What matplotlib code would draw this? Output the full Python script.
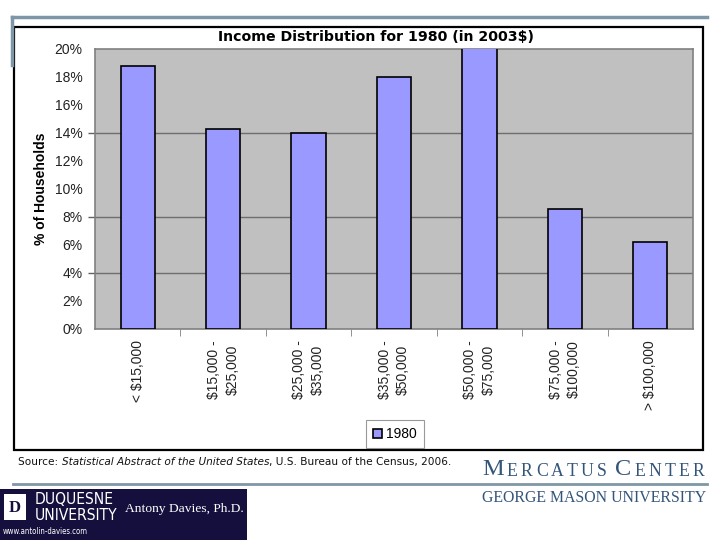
import matplotlib
matplotlib.use("Agg")
import matplotlib.pyplot as plt
from matplotlib.patches import Rectangle
from matplotlib.lines import Line2D

# Income brackets (2003 dollars) and share of households, 1980
categories = ["< $15,000", "$15,000 -\n$25,000", "$25,000 -\n$35,000",
              "$35,000 -\n$50,000", "$50,000 -\n$75,000", "$75,000 -\n$100,000",
              "> $100,000"]
share_1980 = [18.8, 14.3, 14.0, 18.0, 20.3, 8.55, 6.25]
y_ticks = [0, 2, 4, 6, 8, 10, 12, 14, 16, 18, 20]
grid_levels = [4, 8, 14]  # only these gridlines show in the reference

BAR = "#9999FF"
PLOT_BG = "#C0C0C0"
SLIDE_LINE = "#7E97A6"
NAVY = "#150F3E"
MERC = "#34557A"


def main():
    fig = plt.figure(figsize=(7.2, 5.4), dpi=100)
    W, H = 720.0, 540.0

    def fx(px):
        return px / W

    def fy(py):
        return 1 - py / H

    # slide decoration lines
    fig.add_artist(Line2D([fx(12), fx(707)], [fy(17), fy(17)], color=SLIDE_LINE, lw=2.5))
    fig.add_artist(Line2D([fx(12), fx(12)], [fy(17), fy(65)], color=SLIDE_LINE, lw=2.5))
    fig.add_artist(Line2D([fx(13), fx(707)], [fy(484), fy(484)], color=SLIDE_LINE, lw=2.0))

    # chart frame
    fig.add_artist(Rectangle((fx(14), fy(450)), fx(703) - fx(14), fy(27) - fy(450),
                             fill=False, edgecolor="black", lw=1.6))

    ax = fig.add_axes([fx(95), fy(329), fx(693) - fx(95), fy(49) - fy(329)])
    ax.set_facecolor(PLOT_BG)
    x = list(range(len(categories)))
    ax.bar(x, share_1980, width=0.4, color=BAR, edgecolor="black", linewidth=1.2,
           label="1980", zorder=3)
    ax.set_xlim(-0.5, len(categories) - 0.5)
    ax.set_ylim(0, 20)
    ax.set_axisbelow(True)

    for s in ax.spines.values():
        s.set_color("#808080")
        s.set_linewidth(1.2)

    ax.set_yticks(y_ticks)
    ax.set_yticklabels([f"{v}%" for v in y_ticks], fontsize=10,
                       family="Liberation Sans", color="#222222")
    ax.yaxis.remove_overlapping_locs = False
    ax.set_yticks(grid_levels, minor=True)
    ax.tick_params(axis="y", which="major", length=0, pad=9)
    ax.tick_params(axis="y", which="minor", length=5, width=1.0, color="#606060")
    ax.grid(which="minor", axis="y", color="#6E6E6E", linewidth=1.0)

    ax.set_xticks(x)
    ax.set_xticklabels(categories, rotation=90, fontsize=10, family="Liberation Sans",
                       color="#222222", linespacing=1.4, va="top",
                       multialignment="center")
    ax.set_xticks([i + 0.5 for i in x[:-1]], minor=True)
    ax.tick_params(axis="x", which="major", length=0, pad=8)
    ax.tick_params(axis="x", which="minor", length=5, color="#808080")

    ax.set_ylabel("% of Households", fontsize=10, fontweight="bold",
                  family="Liberation Sans", labelpad=5)

    fig.text(fx(375.5), fy(37), "Income Distribution for 1980 (in 2003$)",
             ha="center", va="center", fontsize=10.2, fontweight="bold")

    leg = fig.legend(loc="center", bbox_to_anchor=(fx(395), fy(434)),
                     prop={"family": "Liberation Sans", "size": 10},
                     fancybox=False, edgecolor="#808080", handlelength=0.6,
                     handleheight=0.6, handletextpad=0.3, borderpad=0.5)
    leg.get_frame().set_linewidth(0.8)

    # source line with italic title
    t1 = fig.text(fx(18), fy(462), "Source: ", fontsize=7.6, va="center", color="#111111")
    t2 = plt.annotate("Statistical Abstract of the United States", xy=(1, 0.5),
                      xycoords=t1, va="center", fontsize=7.6, style="italic",
                      color="#111111")
    plt.annotate(", U.S. Bureau of the Census, 2006.", xy=(1, 0.5), xycoords=t2,
                 va="center", fontsize=7.6, color="#111111")

    # Mercatus Center in spaced small caps, letter by letter
    serif = "Liberation Serif"
    word = "MERCATUS CENTER"
    big = {0, 9}
    prev = fig.text(fx(482), fy(475), word[0], fontsize=17.5, family=serif,
                    color=MERC, va="baseline", ha="left")
    for i, ch in enumerate(word[1:], start=1):
        size = 17.5 if i in big else 12.8
        gap = 2.3 if ch != " " else 0.3
        prev = plt.annotate(ch if ch != " " else "\u00a0", xy=(1, 0), xycoords=prev,
                            xytext=(gap, 0), textcoords="offset points",
                            va="bottom", fontsize=size, family=serif, color=MERC)
    fig.text(fx(706), fy(498), "GEORGE MASON UNIVERSITY", fontsize=11.4,
             family=serif, color=MERC, ha="right", va="center")

    # Duquesne banner
    fig.add_artist(Rectangle((0, 0), fx(247), fy(489), color=NAVY, lw=0))
    fig.add_artist(Rectangle((fx(4), fy(520)), fx(22), fy(494) - fy(520),
                             facecolor="white", edgecolor="none"))
    fig.text(fx(15), fy(507.5), "D", fontsize=12, fontweight="bold",
             family=serif, color=NAVY, ha="center", va="center")
    for label, yy in [("DUQUESNE", 500), ("UNIVERSITY", 516)]:
        fig.text(fx(35), fy(yy), label, fontsize=11.2, color="white",
                 va="center", family="DejaVu Sans", fontstretch="condensed")
    fig.text(fx(125), fy(509), "Antony Davies, Ph.D.", fontsize=9.7,
             family=serif, color="white", va="center")
    fig.text(fx(3), fy(531), "www.antolin-davies.com", fontsize=5.6,
             color="white", va="center", family="DejaVu Sans",
             fontstretch="condensed")

    fig.savefig("out.png", dpi=100)


if __name__ == "__main__":
    main()
